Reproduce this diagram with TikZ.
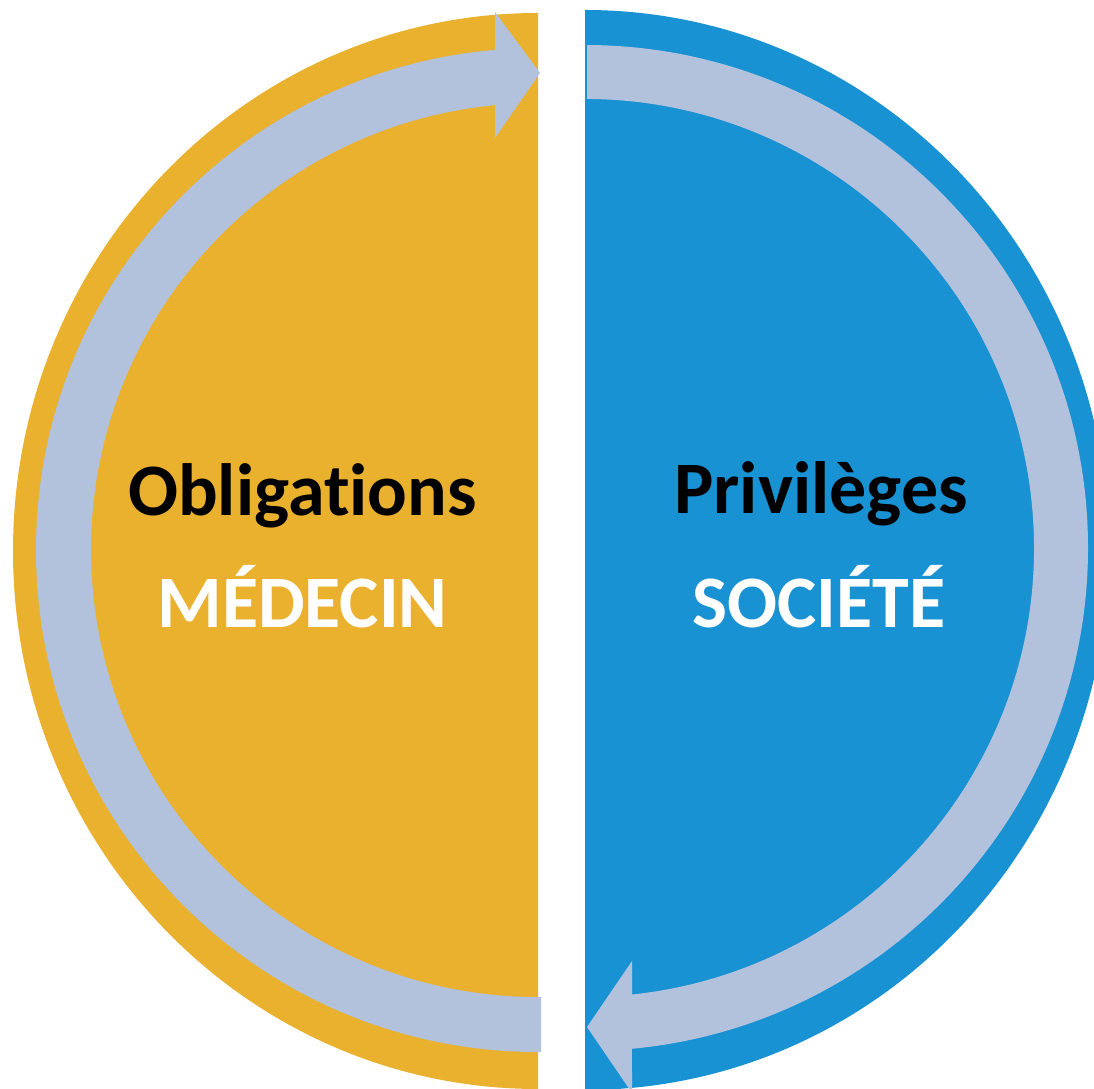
\documentclass[tikz,border=0pt]{standalone}
\usepackage{fontspec}
\setmainfont[Ligatures={NoCommon}]{Carlito}
\definecolor{goldc}{HTML}{E9B12E}
\definecolor{bluec}{HTML}{1892D3}
\definecolor{bandc}{HTML}{B2C1DC}
\tikzset{
  halfdisc/.style={draw=none},
  band/.style={fill=bandc, draw=none},
  title/.style={font=\bfseries\fontsize{74}{80}\selectfont, text=black, inner sep=0pt, anchor=base},
  subtitle/.style={font=\bfseries\fontsize{74}{80}\selectfont, text=white, inner sep=0pt, anchor=base}
}
\begin{document}
\begin{tikzpicture}[x=1pt,y=1pt]
\useasboundingbox (0,0) rectangle (1094,1088);
\clip (0,0) rectangle (1094,1088);
% half discs
\fill[goldc, halfdisc] (538,1075) arc[start angle=90, end angle=270, x radius=525, y radius=538] -- cycle;
\fill[bluec, halfdisc] (585,1078) arc[start angle=90, end angle=-90, x radius=524, y radius=540] -- cycle;
% left circular arrow
\fill[band] (538,36) arc[start angle=270, end angle=94.9, radius=502]
  -- (495,1076) -- (540,1015) -- (495,950) -- (495.2,982.9)
  arc[start angle=95.5, end angle=270, radius=447]
  -- (541,91) -- (541,36) -- cycle;
% right circular arrow
\fill[band] (585,1043) arc[start angle=90, end angle=-84.64, radius=503]
  -- (632,-5) -- (587,61) -- (632,127) -- (632,93.5)
  arc[start angle=-83.99, end angle=90, radius=449]
  -- (587,989) -- (587,1043) -- cycle;
% texts
\node[title] (obl) at (302.5,572) {Obligations};
\node[subtitle] (med) at (302.5,461) {MÉDECIN};
\node[title] (pri) at (821,574) {Privilèges};
\node[subtitle] (soc) at (819,461) {SOCIÉTÉ};
\end{tikzpicture}
\end{document}
